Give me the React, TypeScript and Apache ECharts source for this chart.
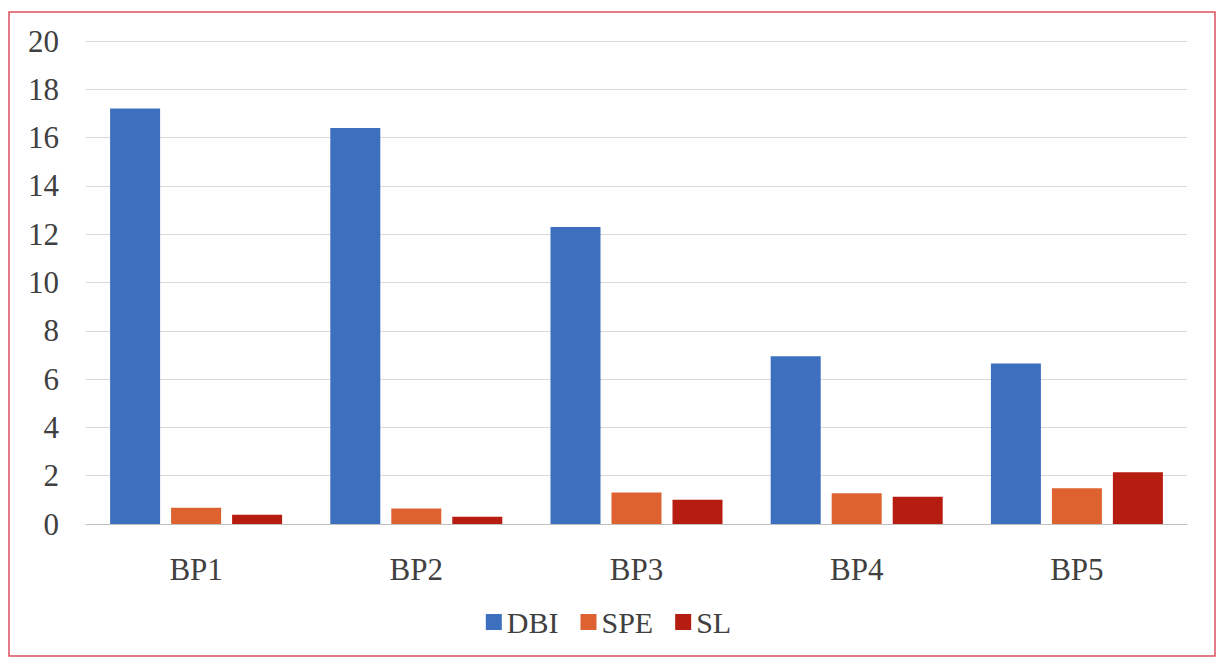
import React, { useEffect, useRef } from "react";
import * as echarts from "echarts";

const categories = ["BP1", "BP2", "BP3", "BP4", "BP5"];
const dbi = [17.2, 16.4, 12.3, 6.95, 6.65];
const spe = [0.67, 0.64, 1.3, 1.27, 1.48];
const sl = [0.38, 0.3, 1.0, 1.13, 2.14];
const seriesNames = ["DBI", "SPE", "SL"];
const colors = ["#3d6fbf", "#dd6230", "#b71c10"];

export default function App() {
  const ref = useRef<HTMLDivElement>(null);
  useEffect(() => {
    if (!ref.current) return;
    const chart = echarts.init(ref.current, null, { renderer: "svg" });
    const font = "'Liberation Serif', 'Times New Roman', serif";
    const data = [dbi, spe, sl];
    chart.setOption({
      animation: false,
      backgroundColor: "#ffffff",
      textStyle: { fontFamily: font },
      grid: { left: 86, right: 30, top: 41, bottom: 135, containLabel: false },
      legend: {
        bottom: 17,
        left: "center",
        itemWidth: 16,
        itemHeight: 16,
        itemGap: 22,
        icon: "rect",
        textStyle: { fontFamily: font, fontSize: 30, color: "#404040" },
        data: seriesNames,
      },
      xAxis: {
        type: "category",
        data: categories,
        axisLine: { show: true, lineStyle: { color: "#bfbfbf", width: 1 } },
        axisTick: { show: false },
        axisLabel: { fontFamily: font, fontSize: 31, color: "#404040", margin: 30 },
      },
      yAxis: {
        type: "value",
        min: 0,
        max: 20,
        interval: 2,
        axisLine: { show: false },
        axisTick: { show: false },
        splitLine: { lineStyle: { color: "#d9d9d9", width: 1 } },
        axisLabel: { fontFamily: font, fontSize: 31, color: "#404040", margin: 27 },
      },
      graphic: [
        {
          type: "rect",
          shape: { x: 9, y: 12, width: 1206, height: 644 },
          style: { fill: "none", stroke: "#d9505f", lineWidth: 1.5 },
          silent: true,
        },
      ],
      series: seriesNames.map((name, i) => ({
        name,
        type: "bar",
        data: data[i],
        barWidth: 50,
        barGap: "22%",
        itemStyle: { color: colors[i] },
      })),
    });
    return () => chart.dispose();
  }, []);
  return (
    <div
      ref={ref}
      style={{ position: "absolute", left: 0, top: 0, width: 1217, height: 659 }}
    />
  );
}
